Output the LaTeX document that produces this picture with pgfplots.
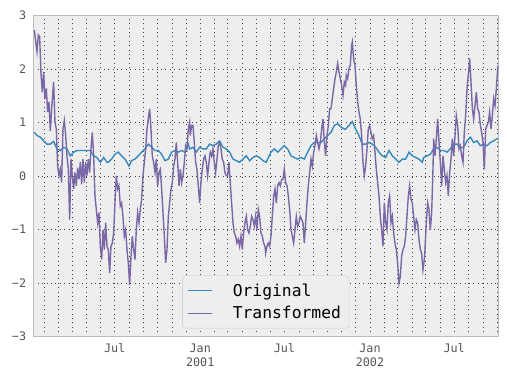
\documentclass[border=0pt]{standalone}
\usepackage{pgfplots}
\pgfplotsset{compat=1.18}
\usepackage{fontspec}
\setmainfont{DejaVu Sans Mono}
\definecolor{bgc}{HTML}{EEEEEE}
\definecolor{brd}{HTML}{BCBCBC}
\definecolor{cOrig}{HTML}{348ABD}
\definecolor{cTrans}{HTML}{7A68A6}
\definecolor{tickc}{HTML}{555555}
\begin{document}
\begin{tikzpicture}
\begin{axis}[
  at={(0,0)}, anchor=south west,
  scale only axis, width=465bp, height=321bp,
  xmin=7, xmax=1007, ymin=-3, ymax=3,
  axis background/.style={fill=bgc},
  axis line style={draw=brd, line width=1bp},
  tick style={draw=none},
  xtick={182,366,547,731,912},
  xticklabels={Jul,Jan\\2001,Jul,Jan\\2002,Jul},
  minor xtick={31,60,91,121,152,213,244,274,305,335,397,425,456,486,517,578,609,639,670,700,762,790,821,851,882,943,974,1004},
  ytick={-3,-2,-1,0,1,2,3},
  yticklabels={−3,−2,−1,0,1,2,3},
  grid=both,
  major grid style={black!75, line width=0.55bp, dash pattern=on 1bp off 3.4bp},
  minor grid style={black!75, line width=0.55bp, dash pattern=on 1bp off 3.4bp},
  xticklabel style={align=center, anchor=north, font=\fontsize{11.8}{14}\selectfont, text=tickc, inner sep=0pt, yshift=-7bp},
  yticklabel style={anchor=east, font=\fontsize{11.8}{14}\selectfont, text=tickc, inner sep=0pt, xshift=-7bp},
  legend style={at={(0.5,0.026)}, anchor=south, draw=brd!80, fill=bgc, rounded corners=3bp,
    font=\fontsize{16.4}{20}\selectfont, inner xsep=5bp, inner ysep=6bp, row sep=4.5bp, column sep=17bp,
    nodes={inner xsep=3bp, inner ysep=2bp},
    cells={anchor=west}},
  legend cell align=left,
]
\addlegendimage{legend image code/.code={\draw[draw=cOrig, line width=1.2bp] (0bp,0bp) -- (24bp,0bp);}}
\addlegendentry{Original}
\addlegendimage{legend image code/.code={\draw[draw=cTrans, line width=1.2bp] (0bp,0bp) -- (24bp,0bp);}}
\addlegendentry{Transformed}
\addplot[color=cOrig, draw=cOrig, line width=1.4bp, forget plot] table[x=d, y=v] {
d v
9.2 0.82
14.9 0.76
22.1 0.73
29.2 0.66
36.4 0.60
43.6 0.60
50.7 0.65
57.9 0.51
65.1 0.48
72.3 0.54
79.4 0.51
86.6 0.38
93.8 0.45
100.9 0.48
108.1 0.48
115.3 0.48
122.4 0.48
129.6 0.48
136.8 0.38
143.9 0.35
151.1 0.26
158.3 0.35
165.5 0.26
168.3 0.26
175.5 0.32
182.6 0.41
189.8 0.45
197.0 0.38
204.2 0.32
212.8 0.19
218.5 0.29
225.7 0.32
232.8 0.38
240.0 0.45
247.2 0.51
254.3 0.60
261.5 0.54
268.7 0.48
275.9 0.48
283.0 0.41
290.2 0.29
297.4 0.32
304.5 0.45
311.7 0.48
318.9 0.45
326.0 0.48
333.2 0.45
340.4 0.60
343.2 0.51
350.3 0.54
357.5 0.45
364.7 0.54
371.9 0.51
379.0 0.51
386.2 0.60
393.4 0.57
400.5 0.60
407.7 0.66
414.9 0.54
422.0 0.51
429.2 0.45
436.4 0.32
443.6 0.29
450.7 0.26
457.9 0.32
465.1 0.38
472.2 0.29
479.4 0.35
486.6 0.38
493.7 0.35
500.9 0.29
508.1 0.26
511.0 0.32
518.1 0.45
525.3 0.51
532.5 0.45
539.6 0.51
546.8 0.57
554.0 0.51
561.2 0.38
568.3 0.35
575.5 0.32
582.7 0.35
589.8 0.32
597.0 0.45
604.2 0.57
611.3 0.63
618.5 0.63
625.7 0.63
632.9 0.70
640.0 0.76
647.2 0.82
654.4 0.95
661.5 0.98
668.7 0.92
675.9 0.88
678.7 0.88
685.8 0.95
693.0 1.02
700.2 0.88
707.4 0.76
714.5 0.60
721.7 0.60
728.9 0.63
736.0 0.60
743.2 0.54
750.4 0.45
757.5 0.38
764.7 0.35
771.9 0.48
779.1 0.38
786.2 0.32
793.4 0.26
800.6 0.32
807.7 0.32
814.9 0.45
822.1 0.38
829.2 0.35
836.4 0.32
843.6 0.26
846.5 0.35
853.6 0.38
860.8 0.41
868.0 0.51
875.2 0.54
882.3 0.48
889.5 0.48
896.7 0.45
903.8 0.51
911.0 0.60
918.2 0.60
925.3 0.54
932.5 0.54
939.7 0.66
946.8 0.73
954.0 0.63
961.2 0.66
968.4 0.57
975.5 0.60
982.7 0.57
989.9 0.63
997.0 0.66
1004.2 0.70
1007.0 0.70
};
\addplot[color=cTrans, draw=cTrans, line width=1.4bp, forget plot] table[x=d, y=v] {
d v
9.2 2.73
14.9 2.33
17.8 2.64
20.6 2.61
23.5 1.92
26.4 1.57
29.2 1.95
32.1 1.45
35.0 1.64
37.8 1.20
40.7 1.39
43.6 0.85
46.4 1.26
50.7 1.76
53.6 1.01
56.5 0.88
59.3 0.19
62.2 0.01
65.1 0.13
67.9 -0.12
70.8 0.88
73.7 1.04
76.6 0.76
79.4 0.38
82.3 0.13
85.2 -0.81
88.0 0.32
90.9 0.01
93.8 -0.24
96.6 0.07
99.5 -0.18
102.4 0.16
105.2 -0.06
108.1 0.26
111.0 -0.15
113.8 0.32
116.7 -0.12
119.6 0.26
122.4 0.01
125.3 0.32
128.2 0.07
131.0 0.51
133.9 0.82
136.8 0.38
139.6 -0.37
142.5 -0.62
145.4 -0.87
148.2 -0.68
151.1 -1.31
154.0 -1.56
156.9 -1.00
159.7 -1.37
162.6 -0.87
165.5 -1.31
168.3 -1.37
171.2 -1.81
174.0 -1.31
176.9 -1.25
179.8 -1.06
182.6 -0.50
185.5 0.01
188.4 -0.24
191.2 -0.18
194.1 -0.56
197.0 -0.50
199.8 -0.75
202.7 -1.12
205.6 -1.00
208.5 -1.37
211.3 -1.62
214.2 -2.03
217.1 -1.50
219.9 -1.12
222.8 -1.37
225.7 -1.56
228.5 -1.00
231.4 -0.68
234.3 -0.87
237.1 -0.62
240.0 -0.43
242.9 0.01
245.7 0.26
248.6 0.51
251.5 0.88
254.3 1.07
257.2 1.26
260.1 0.88
262.9 0.38
265.8 0.26
268.7 0.07
271.5 0.32
274.4 -0.18
277.3 0.07
280.2 0.13
283.0 -0.24
285.9 -0.68
288.8 -1.12
291.6 -1.62
294.5 -1.37
297.4 -0.75
300.2 -0.50
303.1 -0.24
306.0 -0.12
308.8 0.19
311.7 0.32
314.6 0.63
317.4 0.26
320.3 -0.18
323.2 0.13
326.0 -0.12
328.9 0.01
331.8 0.26
334.6 0.57
337.5 0.51
340.4 0.88
343.2 1.01
344.6 0.76
347.5 0.95
350.3 0.95
353.2 0.63
356.1 0.26
358.9 0.13
361.8 -0.18
364.7 -0.50
367.5 -0.12
370.4 0.13
373.3 0.32
376.2 0.38
379.0 0.26
381.9 0.01
384.8 0.26
387.6 0.45
390.5 0.38
393.4 0.51
396.2 0.26
399.1 0.07
402.0 0.32
404.8 0.57
407.7 0.63
410.6 0.51
413.4 0.32
416.3 0.26
419.2 0.07
422.0 0.01
424.9 0.01
427.8 0.26
430.6 -0.12
433.5 -0.50
436.4 -0.87
439.2 -1.06
442.1 -1.12
445.0 -1.25
447.9 -1.18
450.7 -1.31
453.6 -1.12
456.5 -1.37
459.3 -1.06
462.2 -0.87
465.1 -0.75
467.9 -1.00
470.8 -1.06
473.7 -0.93
476.5 -0.75
479.4 -0.81
482.3 -0.93
485.1 -0.75
488.0 -1.00
490.9 -0.62
493.7 -0.75
496.6 -1.06
499.5 -1.12
502.3 -1.25
505.2 -1.31
506.7 -1.44
509.5 -1.31
512.4 -1.25
515.3 -1.31
518.1 -1.12
521.0 -0.75
523.9 -0.37
526.7 -0.24
529.6 -0.50
532.5 -0.18
535.3 -0.12
538.2 -0.18
541.1 -0.06
543.9 -0.06
546.8 0.13
549.7 -0.12
552.6 -0.18
555.4 -0.37
558.3 -0.62
561.2 -1.00
564.0 -1.12
566.9 -1.25
569.8 -1.00
572.6 -0.75
575.5 -0.93
578.4 -0.87
581.2 -0.75
584.1 -0.81
587.0 -0.87
589.8 -1.25
592.7 -0.87
595.6 -0.50
598.4 -0.18
601.3 0.07
604.2 0.32
607.0 0.19
609.9 0.45
612.8 0.57
615.6 0.76
618.5 0.63
621.4 0.51
624.3 0.63
627.1 0.88
630.0 1.07
632.9 0.63
635.7 0.38
638.6 0.76
641.5 0.95
644.3 1.26
647.2 1.26
650.1 1.45
652.9 1.64
655.8 1.82
658.7 1.95
661.5 2.11
664.4 1.95
667.3 1.82
670.1 1.70
673.0 1.51
675.9 1.76
678.7 1.70
680.1 1.89
683.0 1.82
685.8 2.01
688.7 2.08
691.6 2.45
693.0 2.51
695.9 2.20
698.7 2.08
701.6 1.70
704.5 1.39
707.4 1.20
710.2 1.07
713.1 0.76
716.0 0.26
718.8 0.01
721.7 0.19
724.6 0.51
727.4 0.88
730.3 0.95
733.2 0.82
736.0 0.70
738.9 0.76
741.8 0.45
744.6 0.13
747.5 -0.12
750.4 -0.37
753.2 -0.75
756.1 -1.00
759.0 -1.31
761.8 -0.50
764.7 -0.87
767.6 -1.00
770.4 -0.50
773.3 -0.37
776.2 -0.87
779.1 -0.75
781.9 -1.06
784.8 -1.25
787.7 -1.37
790.5 -1.62
793.4 -2.00
796.3 -1.87
799.1 -1.50
802.0 -1.37
804.9 -1.31
807.7 -1.12
810.6 -0.75
813.5 -0.37
816.3 -0.18
819.2 -0.43
822.1 -0.50
824.9 -0.75
827.8 -1.00
830.7 -0.81
833.5 -0.87
836.4 -1.18
839.3 -1.37
842.1 -1.44
845.0 -1.75
847.9 -1.56
849.3 -1.37
852.2 -0.87
855.1 -0.50
857.9 -0.62
860.8 -1.00
863.7 -0.68
866.5 0.13
868.0 0.70
870.9 0.38
873.7 0.70
876.6 1.07
879.5 0.63
882.3 0.26
885.2 -0.18
888.1 0.38
890.9 0.13
893.8 -0.12
896.7 0.01
899.5 -0.37
902.4 0.07
905.3 0.32
908.1 0.70
911.0 0.38
913.9 0.76
916.7 1.13
919.6 0.95
922.5 0.51
925.3 0.57
928.2 0.38
931.1 0.26
933.9 0.82
936.8 1.13
939.7 1.64
942.5 1.89
945.4 2.20
948.3 1.76
951.2 1.26
954.0 1.07
956.9 1.32
959.8 1.57
962.6 1.26
965.5 1.20
968.4 0.95
971.2 0.82
974.1 0.63
977.0 0.13
979.8 0.88
982.7 0.95
985.6 1.01
988.4 1.20
991.3 0.88
994.2 1.13
997.0 1.45
999.9 1.32
1002.8 1.64
1005.6 2.01
1007.0 2.08
};
\end{axis}
\pgfresetboundingbox
\path[use as bounding box] (-33.3bp,-43.3bp) rectangle (473.7bp,336.7bp);
\end{tikzpicture}
\end{document}
